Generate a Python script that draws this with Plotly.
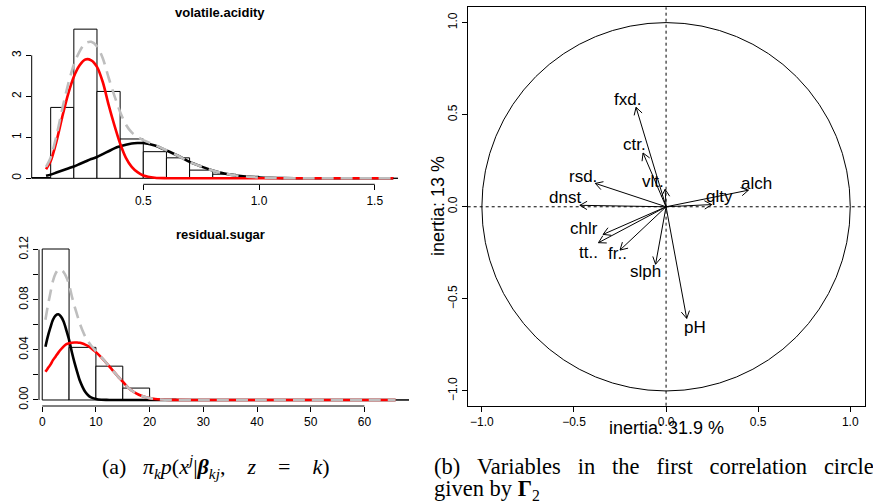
import math
import plotly.graph_objects as go

W, H = 873, 504

# ---------------- data ----------------
# volatile.acidity histogram (density scale)
VA_BREAKS = [0.0, 0.1, 0.2, 0.3, 0.4, 0.5, 0.6, 0.7, 0.8, 0.9, 1.0, 1.1, 1.2, 1.3, 1.4, 1.5, 1.6]
VA_DENSITY = [0.02, 1.73, 3.64, 2.12, 0.96, 0.65, 0.50, 0.20, 0.10, 0.05, 0.02, 0.01, 0.005, 0.003, 0.002, 0.001]
# mixture component curves
VA_X = [0.08, 0.10, 0.125, 0.15, 0.175, 0.20, 0.225, 0.25, 0.275, 0.30,
        0.325, 0.35, 0.375, 0.40, 0.425, 0.45, 0.475, 0.50,
        0.55, 0.60, 0.65, 0.70, 0.75, 0.80, 0.85, 0.90, 0.95, 1.00,
        1.05, 1.10, 1.20, 1.30, 1.40, 1.50, 1.58]
VA_COMP1 = [0.06, 0.09, 0.14, 0.19, 0.24, 0.29, 0.35, 0.41, 0.47, 0.52,
            0.59, 0.66, 0.73, 0.78, 0.82, 0.85, 0.86, 0.86,
            0.80, 0.68, 0.55, 0.40, 0.29, 0.19, 0.12, 0.07, 0.04, 0.02,
            0.01, 0.004, 0.001, 0.0, 0.0, 0.0, 0.0]
VA_COMP2 = [0.22, 0.42, 0.90, 1.50, 2.05, 2.48, 2.76, 2.90, 2.88, 2.72,
            2.35, 1.80, 1.30, 0.85, 0.50, 0.28, 0.15, 0.07,
            0.015, 0.003, 0.0005, 0.0, 0.0, 0.0, 0.0, 0.0, 0.0, 0.0,
            0.0, 0.0, 0.0, 0.0, 0.0, 0.0, 0.0]
VA_MIX = [0.28, 0.51, 1.04, 1.69, 2.29, 2.77, 3.10, 3.30, 3.33, 3.22,
          2.93, 2.46, 2.02, 1.62, 1.31, 1.12, 1.01, 0.93,
          0.815, 0.685, 0.55, 0.40, 0.29, 0.19, 0.12, 0.07, 0.04, 0.02,
          0.01, 0.004, 0.001, 0.0, 0.0, 0.0, 0.0]

# residual.sugar histogram (density scale)
RS_BREAKS = [0, 5, 10, 15, 20, 25, 30, 35, 40, 45, 50, 55, 60, 65, 70]
RS_DENSITY = [0.1205, 0.042, 0.027, 0.0095, 0.0006, 0.0002, 0.0001, 0.0001, 0.0, 0.0, 0.0, 0.0, 0.00005, 0.00005]
RS_X = [0.6, 1.0, 1.5, 2.0, 2.5, 3.0, 3.5, 4.0, 4.5, 5.0, 5.5, 6.0, 6.5, 7.0, 7.5, 8.0, 8.5, 9.0,
        10, 11, 12, 13, 14, 15, 16, 17, 18, 19, 20, 21, 22, 24, 30, 40, 50, 60, 65.8]
RS_COMP1 = [0.0425, 0.050, 0.0575, 0.064, 0.0675, 0.0684, 0.0665, 0.0625, 0.0555, 0.048, 0.0385, 0.030,
            0.0225, 0.0155, 0.0105, 0.0065, 0.004, 0.0023,
            0.0008, 0.0002, 0.00005, 0, 0, 0, 0, 0, 0, 0, 0, 0, 0, 0, 0, 0, 0, 0, 0]
RS_COMP2 = [0.0225, 0.025, 0.028, 0.0318, 0.0348, 0.0378, 0.0405, 0.0428, 0.0445, 0.0453, 0.0457, 0.0459,
            0.0459, 0.0456, 0.045, 0.0442, 0.0432, 0.0418,
            0.0382, 0.034, 0.0293, 0.0243, 0.0193, 0.0146, 0.0098, 0.0066, 0.0042, 0.0026, 0.0015, 0.0008,
            0.0004, 0.0001, 0, 0, 0, 0, 0]
RS_MIX = [0.064, 0.074, 0.085, 0.095, 0.101, 0.104, 0.104, 0.102, 0.098, 0.092, 0.083, 0.075,
          0.068, 0.061, 0.0555, 0.0507, 0.0472, 0.0441,
          0.039, 0.0342, 0.0293, 0.0243, 0.0193, 0.0146, 0.0098, 0.0066, 0.0042, 0.0026, 0.0015, 0.0008,
          0.0004, 0.0001, 0, 0, 0, 0, 0]

# correlation circle
VAR_NAMES = ["fxd.", "vlt.", "ctr.", "rsd.", "chlr", "fr..", "tt..", "dnst", "pH", "slph", "alch", "qlty"]
AXIS1 = [-0.163, -0.005, -0.125, -0.384, -0.342, -0.250, -0.367, -0.468, 0.112, -0.057, 0.447, 0.248]
AXIS2 = [0.540, 0.095, 0.292, 0.127, -0.150, -0.235, -0.195, 0.008, -0.606, -0.312, 0.090, 0.012]
INERTIA1 = "31.9"
INERTIA2 = "13"

# label offsets (pixels) for the variable names: style, not data
LABEL_SHIFT = {"fxd.": (-9, 8), "vlt.": (-12, 8), "ctr.": (-9, 8), "rsd.": (-12, 7),
               "chlr": (-19, 6), "fr..": (-3, -3), "tt..": (-10, -10), "dnst": (-15, 8),
               "pH": (8, -9), "slph": (-10, -7), "alch": (8, 7), "qlty": (8, 8)}

SANS = "Liberation Sans, Arial, Helvetica, sans-serif"
SERIF = "Liberation Serif, Times New Roman, serif"

fig = go.Figure()

def centers(br):
    return [(a + b) / 2 for a, b in zip(br[:-1], br[1:])], [b - a for a, b in zip(br[:-1], br[1:])]

# ---- top-left histogram
c, w = centers(VA_BREAKS)
fig.add_trace(go.Bar(x=c, y=VA_DENSITY, width=w, marker=dict(color="white", line=dict(color="black", width=1)),
                     xaxis="x", yaxis="y", showlegend=False, hoverinfo="skip"))
fig.add_trace(go.Scatter(x=VA_X, y=VA_COMP1, mode="lines", line=dict(color="black", width=2.6, shape="spline", smoothing=0.8),
                         xaxis="x", yaxis="y", showlegend=False))
fig.add_trace(go.Scatter(x=VA_X, y=VA_COMP2, mode="lines", line=dict(color="#FF0000", width=2.6, shape="spline", smoothing=0.8),
                         xaxis="x", yaxis="y", showlegend=False))
fig.add_trace(go.Scatter(x=VA_X, y=VA_MIX, mode="lines", line=dict(color="#BEBEBE", width=2.6, dash="12px,7px", shape="spline", smoothing=0.8),
                         xaxis="x", yaxis="y", showlegend=False))

# ---- bottom-left histogram
c, w = centers(RS_BREAKS)
fig.add_trace(go.Bar(x=c, y=RS_DENSITY, width=w, marker=dict(color="white", line=dict(color="black", width=1)),
                     xaxis="x2", yaxis="y2", showlegend=False, hoverinfo="skip"))
fig.add_trace(go.Scatter(x=RS_X, y=RS_COMP1, mode="lines", line=dict(color="black", width=2.6, shape="spline", smoothing=0.8),
                         xaxis="x2", yaxis="y2", showlegend=False))
fig.add_trace(go.Scatter(x=RS_X, y=RS_COMP2, mode="lines", line=dict(color="#FF0000", width=2.6, shape="spline", smoothing=0.8),
                         xaxis="x2", yaxis="y2", showlegend=False))
fig.add_trace(go.Scatter(x=RS_X, y=RS_MIX, mode="lines", line=dict(color="#BEBEBE", width=2.6, dash="12px,7px", shape="spline", smoothing=0.8),
                         xaxis="x2", yaxis="y2", showlegend=False))

# ---- correlation circle arrows (shaft + open head), equal aspect so data units are isotropic
HEAD = 0.045
ANG = math.radians(30)
ax_, ay_ = [], []
for x, y in zip(AXIS1, AXIS2):
    ax_ += [0, x, None]
    ay_ += [0, y, None]
    t = math.atan2(y, x)
    for s in (-1, 1):
        ax_ += [x - HEAD * math.cos(t + s * ANG), x, None]
        ay_ += [y - HEAD * math.sin(t + s * ANG), y, None]
fig.add_trace(go.Scatter(x=ax_, y=ay_, mode="lines", line=dict(color="black", width=1),
                         xaxis="x3", yaxis="y3", showlegend=False, hoverinfo="skip"))

annotations = []
for name, x, y in zip(VAR_NAMES, AXIS1, AXIS2):
    dx, dy = LABEL_SHIFT[name]
    annotations.append(dict(x=x, y=y, xref="x3", yref="y3", text=name, showarrow=False,
                            xshift=dx, yshift=dy, xanchor="center", yanchor="middle",
                            font=dict(family=SANS, size=17, color="black")))

def px(xp):
    return xp / W

def py(yp):
    return 1 - yp / H

SP = "&nbsp;&nbsp;&nbsp;"
N3 = "&nbsp;&nbsp;&nbsp;"
N4 = "&nbsp;&nbsp;&nbsp;&nbsp;"
annotations += [
    dict(x=px(220), y=py(12), xref="paper", yref="paper", text="<b>volatile.acidity</b>", showarrow=False,
         font=dict(family=SANS, size=13, color="black"), xanchor="center", yanchor="middle"),
    dict(x=px(220), y=py(234), xref="paper", yref="paper", text="<b>residual.sugar</b>", showarrow=False,
         font=dict(family=SANS, size=13, color="black"), xanchor="center", yanchor="middle"),
    dict(x=px(666), y=py(428), xref="paper", yref="paper", text="inertia: %s %%" % INERTIA1, showarrow=False,
         font=dict(family=SANS, size=18, color="black"), xanchor="center", yanchor="middle"),
    dict(x=px(438), y=py(206), xref="paper", yref="paper", text="inertia: %s %%" % INERTIA2, showarrow=False,
         textangle=-90, font=dict(family=SANS, size=18, color="black"), xanchor="center", yanchor="middle"),
    dict(x=px(216), y=py(466), xref="paper", yref="paper",
         text="(a)" + N3 + "<i>π<sub>k</sub>p</i>(<i>x<sup>j</sup></i>|<b><i>β</i></b><sub><i>kj</i></sub>," + N4
              + "<i>z</i>" + N4 + "=" + N4 + "<i>k</i>)",
         showarrow=False, font=dict(family=SERIF, size=22, color="black"), xanchor="center", yanchor="middle"),
    dict(x=px(432), y=py(466), xref="paper", yref="paper",
         text=SP.join(["(b)", "Variables", "in", "the", "first", "correlation", "circle"]),
         showarrow=False, font=dict(family=SERIF, size=22.5, color="black"), xanchor="left", yanchor="middle"),
    dict(x=px(432), y=py(490), xref="paper", yref="paper",
         text="given by <b>Γ</b><sub>2</sub>",
         showarrow=False, font=dict(family=SERIF, size=22.5, color="black"), xanchor="left", yanchor="middle"),
]

shapes = [
    # R-style axis lines spanning first to last tick
    dict(type="line", xref="x", yref="y domain", x0=0.5, x1=1.5, y0=0, y1=0, line=dict(color="black", width=1)),
    dict(type="line", xref="x domain", yref="y", x0=0, x1=0, y0=0, y1=3, line=dict(color="black", width=1)),
    dict(type="line", xref="x2", yref="y2 domain", x0=0, x1=60, y0=0, y1=0, line=dict(color="black", width=1)),
    dict(type="line", xref="x2 domain", yref="y2", x0=0, x1=0, y0=0, y1=0.12, line=dict(color="black", width=1)),
    # correlation circle
    dict(type="circle", xref="x3", yref="y3", x0=-1, x1=1, y0=-1, y1=1, line=dict(color="black", width=1)),
    dict(type="line", xref="x3", yref="y3 domain", x0=0, x1=0, y0=0, y1=1, line=dict(color="black", width=1, dash="dot")),
    dict(type="line", xref="x3 domain", yref="y3", x0=0, x1=1, y0=0, y1=0, line=dict(color="black", width=1, dash="dot")),
]

tickfont = dict(family=SANS, size=12, color="black")
common = dict(showgrid=False, zeroline=False, ticks="outside", ticklen=5, tickwidth=1, tickcolor="black",
              tickfont=tickfont, fixedrange=True, automargin=False)

fig.update_layout(
    width=W, height=H, margin=dict(l=0, r=0, t=0, b=0, autoexpand=False),
    paper_bgcolor="white", plot_bgcolor="white", barmode="overlay", showlegend=False,
    xaxis=dict(domain=[px(31.7), px(407.2)], range=[0.018, 1.64], anchor="y", showline=False,
               tickvals=[0.5, 1.0, 1.5], ticktext=["0.5", "1.0", "1.5"], **common),
    yaxis=dict(domain=[py(184.3), py(23)], range=[-0.146, 3.79], anchor="x", showline=False,
               tickvals=[0, 1, 2, 3], ticktext=["0", "1", "2", "3"], tickangle=-90, **common),
    xaxis2=dict(domain=[px(39), px(409)], range=[-0.6, 68.3], anchor="y2", showline=False,
                tickvals=[0, 10, 20, 30, 40, 50, 60], ticktext=["0", "10", "20", "30", "40", "50", "60"], **common),
    yaxis2=dict(domain=[py(406), py(243)], range=[-0.0048, 0.1253], anchor="x2", showline=False,
                tickvals=[0, 0.04, 0.08, 0.12], ticktext=["0.00", "0.04", "0.08", "0.12"], tickangle=-90,
                minor=dict(tickvals=[0.02, 0.06, 0.10], ticks="outside", ticklen=5, tickwidth=1, tickcolor="black"),
                **common),
    xaxis3=dict(domain=[px(467.7), px(865)], range=[-1.077, 1.08], anchor="y3", showline=True, mirror=True,
                linecolor="black", linewidth=1,
                tickvals=[-1, -0.5, 0, 0.5, 1], ticktext=["−1.0", "−0.5", "0.0", "0.5", "1.0"], **common),
    yaxis3=dict(domain=[py(405.7), py(7.3)], range=[-1.08, 1.083], anchor="x3", showline=True, mirror=True,
                linecolor="black", linewidth=1, tickangle=-90,
                tickvals=[-1, -0.5, 0, 0.5, 1], ticktext=["−1.0", "−0.5", "0.0", "0.5", "1.0"], **common),
    annotations=annotations,
    shapes=shapes,
)

# remove the browser's default 8px page margin so the figure sits at the window's top-left corner
fig.write_html("out.html", config={"displayModeBar": False},
               post_script="document.body.style.margin='0';document.body.style.padding='0';")
